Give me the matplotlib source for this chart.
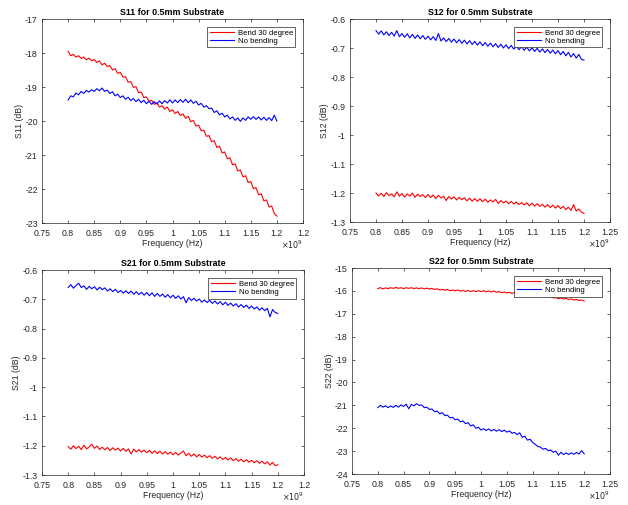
import numpy as np
import matplotlib
matplotlib.use("Agg")
import matplotlib.pyplot as plt
from matplotlib.ticker import FixedLocator, FixedFormatter, MultipleLocator, FuncFormatter

plt.rcParams['font.family'] = ['Liberation Sans', 'DejaVu Sans']

# Frequency sweep (Hz), 81 points from 0.8 GHz to 1.2 GHz
freq = np.linspace(0.8e9, 1.2e9, 81)

s11_bend = [-17.95, -18.08, -18.04, -18.12, -18.08, -18.16, -18.12, -18.20, -18.15, -18.23,
            -18.19, -18.28, -18.23, -18.35, -18.30, -18.40, -18.37, -18.50, -18.46, -18.60,
            -18.57, -18.71, -18.70, -18.86, -18.84, -19.01, -18.99, -19.17, -19.15, -19.31,
            -19.29, -19.42, -19.39, -19.51, -19.47, -19.59, -19.55, -19.65, -19.59, -19.72,
            -19.67, -19.78, -19.72, -19.84, -19.79, -19.92, -19.86, -20.02, -19.98, -20.15,
            -20.12, -20.29, -20.27, -20.45, -20.43, -20.61, -20.58, -20.78, -20.74, -20.94,
            -20.91, -21.11, -21.08, -21.29, -21.26, -21.47, -21.44, -21.64, -21.61, -21.81,
            -21.78, -21.99, -21.96, -22.17, -22.14, -22.35, -22.32, -22.53, -22.50, -22.72,
            -22.80]
s11_flat = [-19.38, -19.26, -19.29, -19.18, -19.23, -19.13, -19.19, -19.10, -19.15, -19.08,
            -19.13, -19.05, -19.11, -19.03, -19.13, -19.09, -19.19, -19.14, -19.26, -19.21,
            -19.31, -19.26, -19.36, -19.30, -19.40, -19.34, -19.43, -19.36, -19.46, -19.39,
            -19.49, -19.42, -19.51, -19.43, -19.50, -19.41, -19.49, -19.40, -19.47, -19.38,
            -19.47, -19.38, -19.46, -19.37, -19.45, -19.36, -19.46, -19.38, -19.48, -19.42,
            -19.53, -19.48, -19.59, -19.55, -19.64, -19.62, -19.75, -19.70, -19.82, -19.77,
            -19.88, -19.83, -19.94, -19.88, -19.98, -19.91, -20.01, -19.91, -19.98, -19.88,
            -19.95, -19.87, -19.95, -19.88, -19.97, -19.89, -19.98, -19.90, -19.99, -19.83,
            -20.00]

s12_bend = [-1.200, -1.210, -1.201, -1.212, -1.199, -1.209, -1.203, -1.213, -1.196, -1.211,
            -1.202, -1.214, -1.203, -1.211, -1.200, -1.215, -1.204, -1.212, -1.206, -1.216,
            -1.205, -1.216, -1.207, -1.219, -1.208, -1.217, -1.211, -1.226, -1.212, -1.221,
            -1.213, -1.224, -1.215, -1.223, -1.216, -1.227, -1.218, -1.228, -1.219, -1.229,
            -1.220, -1.230, -1.221, -1.232, -1.224, -1.231, -1.222, -1.236, -1.226, -1.234,
            -1.228, -1.237, -1.229, -1.238, -1.231, -1.240, -1.233, -1.241, -1.234, -1.244,
            -1.235, -1.245, -1.237, -1.246, -1.239, -1.249, -1.240, -1.250, -1.242, -1.252,
            -1.243, -1.254, -1.246, -1.257, -1.249, -1.260, -1.240, -1.262, -1.255, -1.266,
            -1.270]
s12_flat = [-0.640, -0.652, -0.641, -0.655, -0.644, -0.657, -0.646, -0.659, -0.640, -0.661,
            -0.650, -0.663, -0.651, -0.665, -0.653, -0.667, -0.655, -0.668, -0.657, -0.670,
            -0.659, -0.672, -0.661, -0.674, -0.650, -0.676, -0.665, -0.678, -0.667, -0.680,
            -0.669, -0.682, -0.671, -0.684, -0.673, -0.686, -0.675, -0.688, -0.677, -0.690,
            -0.679, -0.692, -0.681, -0.694, -0.683, -0.696, -0.685, -0.698, -0.687, -0.700,
            -0.689, -0.702, -0.691, -0.704, -0.693, -0.706, -0.695, -0.708, -0.697, -0.710,
            -0.699, -0.712, -0.701, -0.714, -0.703, -0.716, -0.705, -0.718, -0.707, -0.720,
            -0.709, -0.723, -0.712, -0.727, -0.715, -0.731, -0.719, -0.735, -0.722, -0.739,
            -0.742]

s21_bend = [-1.203, -1.212, -1.200, -1.210, -1.202, -1.213, -1.198, -1.211, -1.204, -1.195,
            -1.209, -1.201, -1.213, -1.205, -1.214, -1.206, -1.217, -1.207, -1.215, -1.208,
            -1.218, -1.209, -1.219, -1.211, -1.228, -1.212, -1.221, -1.213, -1.222, -1.215,
            -1.224, -1.216, -1.226, -1.217, -1.227, -1.219, -1.228, -1.220, -1.229, -1.222,
            -1.231, -1.223, -1.232, -1.225, -1.218, -1.234, -1.226, -1.236, -1.228, -1.238,
            -1.230, -1.239, -1.232, -1.241, -1.234, -1.243, -1.236, -1.245, -1.238, -1.247,
            -1.240, -1.249, -1.242, -1.251, -1.244, -1.253, -1.246, -1.255, -1.248, -1.256,
            -1.250, -1.258, -1.251, -1.260, -1.253, -1.262, -1.255, -1.266, -1.257, -1.268,
            -1.265]
s21_flat = [-0.660, -0.650, -0.662, -0.653, -0.645, -0.660, -0.654, -0.666, -0.656, -0.664,
            -0.657, -0.668, -0.659, -0.667, -0.661, -0.672, -0.664, -0.674, -0.666, -0.677,
            -0.670, -0.679, -0.671, -0.680, -0.672, -0.683, -0.674, -0.684, -0.676, -0.686,
            -0.677, -0.688, -0.678, -0.690, -0.680, -0.690, -0.682, -0.693, -0.684, -0.695,
            -0.686, -0.697, -0.688, -0.699, -0.691, -0.712, -0.694, -0.704, -0.697, -0.706,
            -0.699, -0.710, -0.702, -0.711, -0.704, -0.714, -0.706, -0.716, -0.708, -0.719,
            -0.710, -0.721, -0.713, -0.723, -0.715, -0.726, -0.718, -0.728, -0.720, -0.731,
            -0.723, -0.733, -0.726, -0.737, -0.729, -0.739, -0.731, -0.760, -0.735, -0.745,
            -0.748]

s22_bend = [-15.90, -15.86, -15.91, -15.87, -15.90, -15.86, -15.89, -15.85, -15.89, -15.86,
            -15.90, -15.86, -15.89, -15.86, -15.90, -15.87, -15.90, -15.87, -15.91, -15.88,
            -15.92, -15.89, -15.94, -15.91, -15.96, -15.93, -15.97, -15.94, -15.99, -15.96,
            -16.00, -15.96, -16.01, -15.98, -16.02, -15.98, -16.03, -15.99, -16.03, -15.99,
            -16.03, -15.99, -16.04, -16.00, -16.05, -16.01, -16.06, -16.03, -16.08, -16.05,
            -16.09, -16.06, -16.11, -16.08, -16.12, -16.09, -16.14, -16.11, -16.15, -16.12,
            -16.16, -16.14, -16.19, -16.17, -16.23, -16.21, -16.27, -16.25, -16.31, -16.29,
            -16.34, -16.31, -16.36, -16.33, -16.38, -16.35, -16.40, -16.37, -16.42, -16.40,
            -16.45]
s22_flat = [-21.10, -21.00, -21.08, -21.02, -21.10, -21.03, -21.09, -21.00, -21.08, -20.98,
            -21.05, -20.95, -21.15, -20.96, -21.02, -20.93, -21.00, -20.98, -21.10, -21.08,
            -21.18, -21.16, -21.28, -21.25, -21.37, -21.32, -21.45, -21.43, -21.55, -21.52,
            -21.63, -21.60, -21.72, -21.68, -21.80, -21.76, -21.90, -21.85, -22.00, -21.96,
            -22.08, -22.02, -22.10, -22.03, -22.12, -22.05, -22.13, -22.06, -22.15, -22.08,
            -22.17, -22.12, -22.22, -22.18, -22.28, -22.20, -22.40, -22.35, -22.52, -22.48,
            -22.62, -22.70, -22.80, -22.82, -22.92, -22.88, -22.98, -22.95, -23.05, -23.00,
            -23.18, -23.05, -23.15, -23.08, -23.15, -23.07, -23.14, -23.06, -23.13, -22.98,
            -23.12]

series_labels = ['Bend 30 degree', 'No bending']
titles = ['S11 for 0.5mm Substrate', 'S12 for 0.5mm Substrate',
          'S21 for 0.5mm Substrate', 'S22 for 0.5mm Substrate']
ylabels = ['S11 (dB)', 'S12 (dB)', 'S21 (dB)', 'S22 (dB)']
panels = [(s11_bend, s11_flat), (s12_bend, s12_flat), (s21_bend, s21_flat), (s22_bend, s22_flat)]
xtick_vals = [0.75e9, 0.8e9, 0.85e9, 0.9e9, 0.95e9, 1.0e9, 1.05e9, 1.1e9, 1.15e9, 1.2e9, 1.25e9]
xtick_labels_full = ['0.75', '0.8', '0.85', '0.9', '0.95', '1', '1.05', '1.1', '1.15', '1.2', '1.25']
xtick_labels_cut = ['0.75', '0.8', '0.85', '0.9', '0.95', '1', '1.05', '1.1', '1.15', '1.2', '1.2']
xtick_sets = [xtick_labels_cut, xtick_labels_full, xtick_labels_cut, xtick_labels_full]
ylims = [(-23, -17), (-1.3, -0.6), (-1.3, -0.6), (-24, -15)]
ysteps = [1, 0.1, 0.1, 1]

W, H = 628, 505
fig = plt.figure(figsize=(W / 100, H / 100), dpi=100)
# (left, right, top, bottom) in pixels
boxes = [(42, 303, 19, 223), (350, 610, 19, 222), (42, 304, 270, 475), (352, 610, 268, 474)]
edge = '#262626'
fmt_y = FuncFormatter(lambda v, p: '%g' % round(v, 4))

for i, (l, r, t, b) in enumerate(boxes):
    ax = fig.add_axes([l / W, 1 - b / H, (r - l) / W, (b - t) / H])
    bend, flat = panels[i]
    ax.plot(freq, bend, color=(1, 0, 0), lw=0.8, label=series_labels[0])
    ax.plot(freq, flat, color=(0, 0, 1), lw=0.8, label=series_labels[1])
    ax.set_xlim(xtick_vals[0], xtick_vals[-1])
    ax.set_ylim(*ylims[i])
    ax.xaxis.set_major_locator(FixedLocator(xtick_vals))
    ax.xaxis.set_major_formatter(FixedFormatter(xtick_sets[i]))
    ax.yaxis.set_major_locator(MultipleLocator(ysteps[i]))
    ax.yaxis.set_major_formatter(fmt_y)
    ax.tick_params(direction='in', top=True, right=True, length=2.5, width=0.5,
                   labelsize=6.3, colors=edge)
    ax.tick_params(axis='x', pad=4)
    ax.tick_params(axis='y', pad=3)
    for s in ax.spines.values():
        s.set_linewidth(0.5)
        s.set_color(edge)
    ax.set_title(titles[i], fontsize=6.4, fontweight='bold', pad=3, color='black')
    ax.set_xlabel('Frequency (Hz)', fontsize=6.3, labelpad=1, color=edge)
    ax.set_ylabel(ylabels[i], fontsize=6.3, labelpad=1, color=edge)
    ax.text(1.0 - 11 / (r - l), -22 / (b - t), r'$\times10^{9}$', transform=ax.transAxes,
            fontsize=5.8, color=edge, ha='center', va='center')
    leg = ax.legend(loc='upper right', fontsize=5.6, frameon=True, fancybox=False,
                    framealpha=1, edgecolor=edge, handlelength=3.2, handletextpad=0.4,
                    borderpad=0.3, labelspacing=0.15, borderaxespad=1.0)
    leg.get_frame().set_linewidth(0.5)

fig.savefig('out.png', dpi=100)
